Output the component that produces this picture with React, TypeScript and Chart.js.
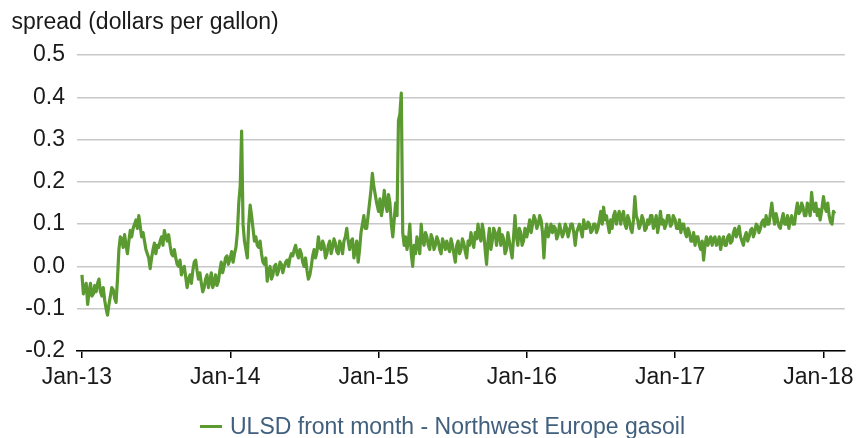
import React, { useEffect, useRef } from "react";
import { Chart, registerables } from "chart.js";

Chart.register(...registerables);

const TITLE = "spread (dollars per gallon)";
const SERIES_LABEL = "ULSD front month - Northwest Europe gasoil";
const YEARS = [2013, 2014, 2015, 2016, 2017, 2018];
const X_TICK_LABELS = ["Jan-13", "Jan-14", "Jan-15", "Jan-16", "Jan-17", "Jan-18"];
const Y_TICKS = [-0.2, -0.1, 0.0, 0.1, 0.2, 0.3, 0.4, 0.5];

// weekly readings (index i = day i*7 of the year)
const w2013 = [
  -0.02, -0.05, -0.09, -0.04, -0.065, -0.06, -0.03, -0.07, -0.08, -0.115, -0.07, -0.055, -0.085,
  0.04, 0.065, 0.075, 0.03, 0.085, 0.09, 0.11, 0.12, 0.07, 0.06, 0.03,
  -0.005, 0.04, 0.03, 0.045, 0.07, 0.085, 0.06, 0.05, 0.025, 0.02, 0.0, -0.02,
  0.0, -0.05, -0.02, -0.01, 0.015, -0.03, -0.04, -0.05, -0.02, -0.035,
  -0.05, -0.02, -0.035, 0.01, 0.0, 0.025,
];
const w2014 = [
  0.02, 0.01, 0.045, 0.15, 0.32, 0.06, 0.02, 0.145, 0.09, 0.07, 0.045, 0.03, 0.005,
  -0.035, 0.0, -0.02, 0.005, -0.01, 0.005, 0.0, 0.015, 0.02, 0.025, 0.05, 0.02,
  0.03, 0.0, -0.01, -0.02, 0.025, 0.02, 0.07, 0.04, 0.05, 0.03, 0.06, 0.045,
  0.055, 0.03, 0.05, 0.06, 0.09, 0.04, 0.065, 0.04, 0.01, 0.08, 0.12, 0.09,
  0.15, 0.22, 0.17,
];
const w2015 = [
  0.13, 0.12, 0.18, 0.13, 0.15, 0.07, 0.15, 0.345, 0.41, 0.05, 0.04, 0.1, 0.0,
  0.03, 0.05, 0.1, 0.05, 0.07, 0.04, 0.065, 0.05, 0.06, 0.03, 0.055, 0.06,
  0.035, 0.05, 0.01, 0.06, 0.04, 0.055, 0.02, 0.05, 0.06, 0.08, 0.1, 0.06,
  0.08, 0.005, 0.09, 0.06, 0.08, 0.075, 0.05, 0.065, 0.04, 0.06, 0.02, 0.12,
  0.05, 0.08, 0.06,
];
const w2016 = [
  0.07, 0.11, 0.1, 0.11, 0.1, 0.11, 0.02, 0.1, 0.085, 0.08, 0.09, 0.075, 0.085,
  0.08, 0.09, 0.085, 0.1, 0.05, 0.09, 0.085, 0.11, 0.09, 0.1, 0.085, 0.1,
  0.09, 0.13, 0.14, 0.12, 0.08, 0.09, 0.13, 0.12, 0.1, 0.13, 0.09, 0.11,
  0.08, 0.165, 0.11, 0.1, 0.11, 0.09, 0.1, 0.12, 0.1, 0.08, 0.13, 0.11,
  0.1, 0.12, 0.1,
];
const w2017 = [
  0.11, 0.09, 0.08, 0.1, 0.07, 0.08, 0.06, 0.05, 0.07, 0.04, 0.015, 0.07, 0.06,
  0.05, 0.07, 0.055, 0.04, 0.07, 0.05, 0.075, 0.06, 0.09, 0.08, 0.07, 0.05,
  0.08, 0.07, 0.09, 0.08, 0.095, 0.09, 0.11, 0.12, 0.1, 0.15, 0.1, 0.11,
  0.09, 0.125, 0.1, 0.09, 0.12, 0.1, 0.15, 0.13, 0.14, 0.12, 0.14, 0.175,
  0.13, 0.12, 0.11,
];
const w2018 = [0.165, 0.13, 0.12, 0.1, 0.125];

// mid-week readings (index i = day i*7+3.5 of the year)
const m2013 = [
  -0.065, -0.04, -0.06, -0.07, -0.045, -0.04, -0.06, -0.05, -0.1, -0.09, -0.05, -0.075, -0.03,
  0.07, 0.045, 0.05, 0.06, 0.07, 0.1, 0.09, 0.095, 0.08, 0.04, 0.02,
  0.02, 0.055, 0.05, 0.06, 0.05, 0.07, 0.075, 0.03, 0.04, 0.005, 0.015, -0.005,
  -0.025, -0.03, -0.04, 0.01, -0.01, -0.015, -0.06, -0.03, -0.05, -0.015,
  -0.04, -0.045, -0.01, -0.015, 0.02, 0.005,
];
const m2014 = [
  0.035, 0.03, 0.08, 0.19, 0.1, 0.04, 0.1, 0.12, 0.06, 0.05, 0.06, 0.01, 0.02,
  -0.01, -0.03, 0.0, -0.02, 0.01, -0.015, 0.01, 0.0, 0.03, 0.04, 0.03, 0.04,
  0.01, 0.02, -0.03, 0.0, 0.04, 0.035, 0.045, 0.06, 0.02, 0.05, 0.03, 0.065,
  0.035, 0.06, 0.03, 0.07, 0.06, 0.06, 0.02, 0.06, 0.04, 0.1, 0.09, 0.12,
  0.18, 0.19, 0.15,
];
const m2015 = [
  0.16, 0.14, 0.15, 0.17, 0.1, 0.11, 0.12, 0.36, 0.08, 0.07, 0.06, 0.03, 0.05,
  0.07, 0.03, 0.06, 0.08, 0.05, 0.075, 0.04, 0.07, 0.04, 0.065, 0.04, 0.045,
  0.065, 0.03, 0.05, 0.03, 0.065, 0.035, 0.06, 0.08, 0.045, 0.065, 0.07, 0.1,
  0.04, 0.06, 0.04, 0.09, 0.05, 0.09, 0.075, 0.03, 0.08, 0.04, 0.07, 0.07,
  0.09, 0.05, 0.09,
];
const m2016 = [
  0.09, 0.08, 0.12, 0.09, 0.12, 0.08, 0.08, 0.07, 0.1, 0.095, 0.065, 0.1, 0.07,
  0.1, 0.07, 0.1, 0.08, 0.08, 0.1, 0.07, 0.09, 0.105, 0.08, 0.1, 0.08,
  0.11, 0.1, 0.11, 0.1, 0.11, 0.12, 0.1, 0.13, 0.12, 0.1, 0.12, 0.09,
  0.11, 0.12, 0.09, 0.12, 0.085, 0.11, 0.12, 0.09, 0.12, 0.1, 0.1, 0.09,
  0.12, 0.095, 0.12,
];
const m2017 = [
  0.09, 0.11, 0.1, 0.08, 0.09, 0.06, 0.08, 0.07, 0.05, 0.06, 0.05, 0.05, 0.07,
  0.065, 0.05, 0.07, 0.06, 0.05, 0.07, 0.055, 0.08, 0.07, 0.095, 0.06, 0.07,
  0.06, 0.085, 0.07, 0.1, 0.08, 0.105, 0.095, 0.1, 0.125, 0.12, 0.125, 0.095,
  0.11, 0.1, 0.12, 0.11, 0.1, 0.13, 0.125, 0.15, 0.12, 0.15, 0.12, 0.14,
  0.15, 0.135, 0.13,
];
const m2018 = [0.14, 0.15, 0.105, 0.13];

const WEEKLY = [w2013, w2014, w2015, w2016, w2017, w2018];
const MIDWEEK = [m2013, m2014, m2015, m2016, m2017, m2018];

const GREEN = "#5b9a31";
const FONT = '"Liberation Sans", Arial, Helvetica, sans-serif';
const FS = 23;

function buildPoints() {
  const pts: { x: number; y: number }[] = [];
  WEEKLY.forEach((arr, yi) => {
    const mids = MIDWEEK[yi];
    arr.forEach((v, i) => {
      pts.push({ x: YEARS[yi] + (i * 7) / 365.25, y: v });
      if (i < mids.length) {
        pts.push({ x: YEARS[yi] + (i * 7 + 3.5) / 365.25, y: mids[i] });
      }
    });
  });
  return pts;
}

const textPlugin = {
  id: "extraTexts",
  afterDraw(chart: any) {
    const ctx = chart.ctx;
    ctx.save();
    ctx.font = `${FS}px ${FONT}`;
    ctx.textAlign = "left";
    ctx.textBaseline = "alphabetic";
    ctx.fillStyle = "#1a1a1a";
    ctx.fillText(TITLE, 11.5, 29.3);
    ctx.strokeStyle = GREEN;
    ctx.lineWidth = 3;
    ctx.beginPath();
    ctx.moveTo(200, 426.5);
    ctx.lineTo(222, 426.5);
    ctx.stroke();
    ctx.fillStyle = "#41607e";
    ctx.fillText(SERIES_LABEL, 230, 433.5);
    ctx.restore();
  },
};

export default function App() {
  const ref = useRef<HTMLCanvasElement | null>(null);
  useEffect(() => {
    document.body.style.margin = "0";
    const canvas = ref.current;
    if (!canvas) return;
    const chart = new Chart(canvas, {
      type: "line",
      data: {
        datasets: [
          {
            label: SERIES_LABEL,
            data: buildPoints(),
            borderColor: GREEN,
            backgroundColor: GREEN,
            borderWidth: 3.2,
            borderJoinStyle: "round",
            pointRadius: 0,
            tension: 0,
          },
        ],
      },
      options: {
        animation: false,
        responsive: false,
        devicePixelRatio: 1,
        layout: { padding: { left: 0, right: 13, top: 55, bottom: 0 } },
        plugins: { legend: { display: false }, tooltip: { enabled: false }, title: { display: false } },
        scales: {
          x: {
            type: "linear",
            min: 2013 - 5 / 149.7,
            max: 2018 + 21.5 / 149.7,
            afterFit: (s: any) => {
              s.height = 87;
            },
            afterBuildTicks: (axis: any) => {
              axis.ticks = YEARS.map((v) => ({ value: v }));
            },
            grid: {
              display: true,
              drawOnChartArea: false,
              drawTicks: true,
              tickLength: 7,
              color: "#000000",
              lineWidth: 1.5,
            },
            border: { display: true, color: "#000000", width: 1.5 },
            ticks: {
              autoSkip: false,
              maxRotation: 0,
              padding: 6,
              labelOffset: -5,
              color: "#1a1a1a",
              font: { family: FONT, size: FS },
              callback: (v: any) => {
                const i = YEARS.indexOf(Math.round(Number(v)));
                return i >= 0 ? X_TICK_LABELS[i] : "";
              },
            },
          },
          y: {
            min: -0.2,
            max: 0.5,
            afterFit: (s: any) => {
              s.width = 77;
            },
            afterBuildTicks: (axis: any) => {
              axis.ticks = Y_TICKS.map((v) => ({ value: v }));
            },
            grid: { color: "#c8c8c8", lineWidth: 1.5, drawTicks: false },
            border: { display: false },
            ticks: {
              padding: 12,
              color: "#1a1a1a",
              font: { family: FONT, size: FS },
              callback: (v: any) => {
                const n = Number(v);
                return Math.abs(n) < 1e-9 ? "0.0" : n.toFixed(1);
              },
            },
          },
        },
      },
      plugins: [textPlugin],
    });
    return () => chart.destroy();
  }, []);
  return (
    <div style={{ width: 865, height: 438, background: "#ffffff" }}>
      <canvas ref={ref} width={865} height={438} style={{ display: "block", width: 865, height: 438 }} />
    </div>
  );
}
